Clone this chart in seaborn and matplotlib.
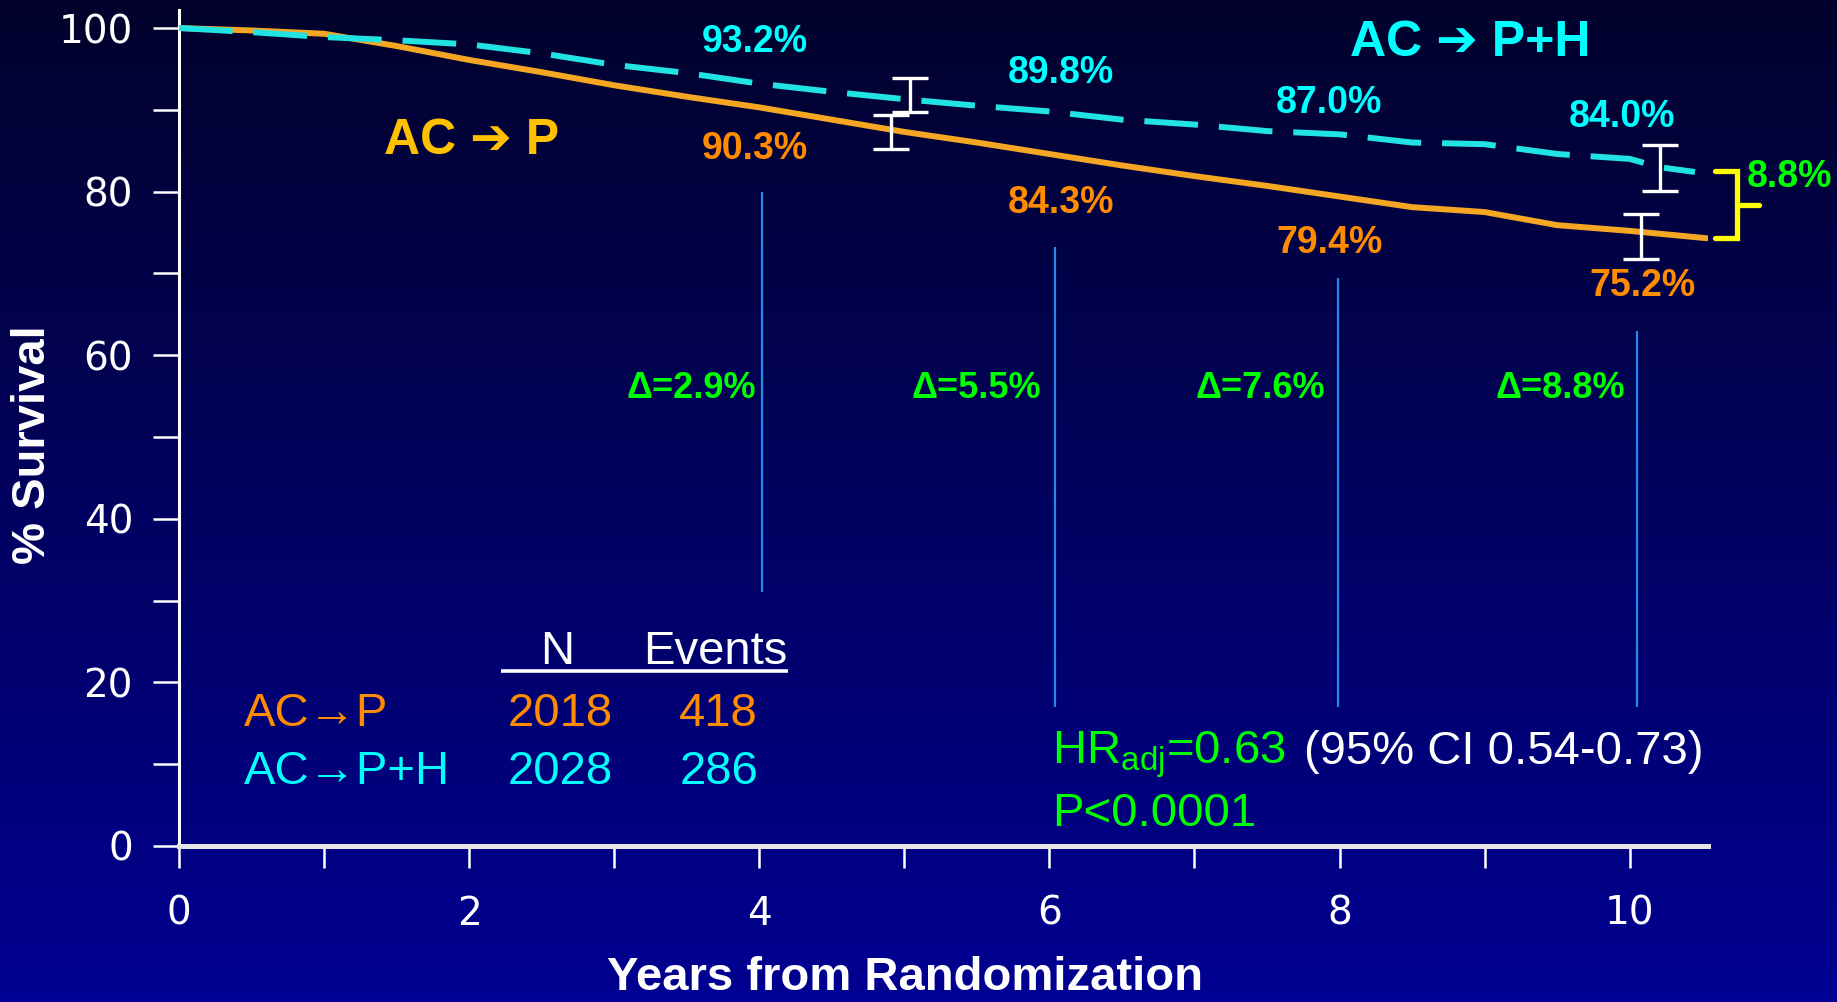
import numpy as np
import matplotlib
matplotlib.use("Agg")
import matplotlib.pyplot as plt
import seaborn as sns
import pandas as pd
from matplotlib.offsetbox import TextArea, HPacker, AnnotationBbox

# ---------------- data ----------------
years_p = [0, 0.5, 1.0, 1.5, 2.0, 2.5, 3.0, 3.5, 4.0, 4.5, 5.0, 5.5, 6.0, 6.5,
           7.0, 7.5, 8.0, 8.5, 9.0, 9.5, 10.0, 10.53]
surv_p = [100, 99.7, 99.3, 97.8, 96.1, 94.6, 93.0, 91.6, 90.3, 88.8, 87.3, 86.0,
          84.6, 83.2, 81.9, 80.7, 79.4, 78.1, 77.5, 75.9, 75.2, 74.3]

years_ph = [0, 0.5, 1.0, 1.5, 2.0, 2.5, 3.0, 3.5, 4.0, 4.5, 5.0, 5.5, 6.0, 6.5,
            7.0, 7.5, 8.0, 8.5, 9.0, 9.5, 10.0, 10.2, 10.45]
surv_ph = [100, 99.5, 98.9, 98.5, 98.0, 96.9, 95.5, 94.5, 93.2, 92.2, 91.3, 90.5,
           89.8, 88.8, 88.2, 87.4, 87.0, 86.0, 85.8, 84.6, 84.0, 83.0, 82.4]

# confidence intervals (white error bars)
ci_x_p = [4.91, 10.08]
ci_lo_p = [85.2, 71.8]
ci_hi_p = [89.4, 77.3]
ci_x_ph = [5.04, 10.21]
ci_lo_ph = [89.7, 80.1]
ci_hi_ph = [93.9, 85.7]

# survival estimates shown as labels
label_years = [4, 6, 8, 10]
labels_ph = ["93.2%", "89.8%", "87.0%", "84.0%"]
labels_p = ["90.3%", "84.3%", "79.4%", "75.2%"]
delta_labels = ["\u0394=2.9%", "\u0394=5.5%", "\u0394=7.6%", "\u0394=8.8%"]

# bracket at end (difference 8.8%)
bracket_top = 82.5
bracket_bottom = 74.3
bracket_label = "8.8%"

# table
table_groups = ["AC\u2192P", "AC\u2192P+H"]
table_n = ["2018", "2028"]
table_events = ["418", "286"]

xticks_major = [0, 2, 4, 6, 8, 10]
yticks_major = [0, 20, 40, 60, 80, 100]

# ---------------- style ----------------
sns.set_theme(style="white")
plt.rcParams["font.family"] = ["Liberation Sans", "DejaVu Sans"]
plt.rcParams["mathtext.default"] = "regular"

C_LINE_P = "#F5A623"
C_LINE_PH = "#22E3E3"
C_TXT_P = "#FF8C00"
C_TXT_PH = "#00FFFF"
C_GOLD = "#FFC000"
C_GREEN = "#00FF00"
C_VLINE = "#1E8CEB"

fig = plt.figure(figsize=(18.37, 10.02), dpi=100)

# background gradient
bg = fig.add_axes([0, 0, 1, 1], zorder=-10)
grad = np.linspace(0, 1, 256).reshape(-1, 1)
top = np.array([2, 2, 44]) / 255.0
bot = np.array([0, 0, 146]) / 255.0
img = top[None, None, :] * (1 - grad[:, :, None]) + bot[None, None, :] * grad[:, :, None]
bg.imshow(img, aspect="auto", extent=[0, 1, 0, 1], origin="upper")
bg.set_axis_off()

ax = fig.add_axes([0.0974, 0.1557, 0.8324, 0.8343])
ax.patch.set_alpha(0)

df_p = pd.DataFrame({"year": years_p, "surv": surv_p})
df_ph = pd.DataFrame({"year": years_ph, "surv": surv_ph})

sns.lineplot(data=df_p, x="year", y="surv", ax=ax, color=C_LINE_P, lw=4.3,
             errorbar=None, zorder=3)
sns.lineplot(data=df_ph, x="year", y="surv", ax=ax, color=C_LINE_PH, lw=4.3,
             errorbar=None, zorder=3, linestyle=(0, (9, 3.5)))

# error bars
for xs, lo, hi in [(ci_x_p, ci_lo_p, ci_hi_p), (ci_x_ph, ci_lo_ph, ci_hi_ph)]:
    lo = np.array(lo); hi = np.array(hi)
    mid = (lo + hi) / 2
    ax.errorbar(xs, mid, yerr=(hi - lo) / 2, fmt="none", ecolor="white",
                elinewidth=2.4, capsize=13, capthick=2.4, zorder=5)

ax.set_xlim(0, 10.54)
ax.set_ylim(0, 102.2)

for s in ["top", "right"]:
    ax.spines[s].set_visible(False)
ax.spines["left"].set_color("white")
ax.spines["left"].set_linewidth(2.2)
ax.spines["bottom"].set_color("#E6E6E6")
ax.spines["bottom"].set_linewidth(3.6)

ax.set_xticks(xticks_major)
ax.set_xticks([1, 3, 5, 7, 9], minor=True)
ax.set_yticks(yticks_major)
ax.set_yticks([10, 30, 50, 70, 90], minor=True)
ax.tick_params(axis="y", which="both", direction="out", length=19, width=1.8,
               color="white", labelcolor="white", labelsize=28, pad=14, left=True)
ax.tick_params(axis="x", which="both", direction="out", length=16, width=1.8,
               color="white", labelcolor="white", labelsize=28, pad=19, bottom=True)
for lab in ax.get_xticklabels() + ax.get_yticklabels():
    lab.set_family("DejaVu Sans")
ax.grid(False)

ax.set_xlabel("Years from Randomization", color="white", fontsize=34,
              fontweight="bold")
ax.xaxis.set_label_coords(0.475, -0.132)
ax.set_ylabel("% Survival", color="white", fontsize=34, fontweight="bold")
ax.yaxis.set_label_coords(-0.081, 0.48)

# vertical guide lines
vx = [4.02, 6.04, 7.99, 10.05]
vtop = [79.9, 73.2, 69.4, 62.9]
vbot = [31.1, 17.0, 17.0, 17.0]
ax.vlines(vx, vbot, vtop, color=C_VLINE, lw=1.6, zorder=2)

# percentage labels
ph_pos = [(3.97, 98.3), (6.08, 94.5), (7.93, 90.8), (9.95, 89.1)]
p_pos = [(3.97, 85.2), (6.08, 78.6), (7.93, 73.7), (10.09, 68.5)]
for (x, y), t in zip(ph_pos, labels_ph):
    ax.text(x, y, t, color=C_TXT_PH, fontsize=27, fontweight="bold",
            ha="center", va="center")
for (x, y), t in zip(p_pos, labels_p):
    ax.text(x, y, t, color=C_TXT_P, fontsize=27, fontweight="bold",
            ha="center", va="center")

dx = [3.98, 5.94, 7.90, 9.97]
for x, t in zip(dx, delta_labels):
    ax.text(x, 55.9, t, color=C_GREEN, fontsize=26, fontweight="bold",
            ha="right", va="center")

ax.text(2.02, 86.2, "AC \u2794 P", color=C_GOLD, fontsize=36,
        fontweight="bold", ha="center", va="center")
ax.text(8.9, 98.2, "AC \u2794 P+H", color=C_TXT_PH, fontsize=36,
        fontweight="bold", ha="center", va="center")

# bracket
bx0, bx1, bx2 = 10.59, 10.74, 10.89
bmid = (bracket_top + bracket_bottom) / 2
ax.plot([bx0, bx1, bx1, bx0], [bracket_top, bracket_top, bracket_bottom, bracket_bottom],
        color="#FFFF00", lw=3.8, clip_on=False, solid_joinstyle="miter", zorder=4)
ax.plot([bx1, bx2], [bmid, bmid], color="#FFFF00", lw=3.8, clip_on=False,
        solid_capstyle="round", zorder=4)
ax.text(10.81, bracket_top - 0.7, bracket_label, color=C_GREEN, fontsize=27,
        fontweight="bold", ha="left", va="center", clip_on=False)

# table
ax.text(2.61, 22.3, "N", color="white", fontsize=34, ha="center", va="baseline")
ax.text(3.70, 22.3, "Events", color="white", fontsize=34, ha="center", va="baseline")
ax.plot([2.22, 4.20], [21.4, 21.4], color="white", lw=2.6, solid_capstyle="butt")
row_y = [14.7, 7.6]
row_col = [C_TXT_P, C_TXT_PH]
for y, g, n, e, c in zip(row_y, table_groups, table_n, table_events, row_col):
    ax.text(0.45, y, g, color=c, fontsize=34, ha="left", va="baseline")
    ax.text(2.63, y, n, color=c, fontsize=34, ha="center", va="baseline")
    ax.text(3.72, y, e, color=c, fontsize=34, ha="center", va="baseline")

# HR text
ta1 = TextArea("HR$_{adj}$=0.63", textprops=dict(color=C_GREEN, fontsize=34))
ta2 = TextArea("(95% CI 0.54-0.73)", textprops=dict(color="white", fontsize=34))
pack = HPacker(children=[ta1, ta2], align="baseline", pad=0, sep=13)
ab = AnnotationBbox(pack, (6.02, 9.6), xycoords="data", box_alignment=(0, 0.25),
                    frameon=False, pad=0)
ax.add_artist(ab)
ax.text(6.02, 2.4, "P<0.0001", color=C_GREEN, fontsize=34, ha="left",
        va="baseline")

fig.savefig("out.png", dpi=100)
